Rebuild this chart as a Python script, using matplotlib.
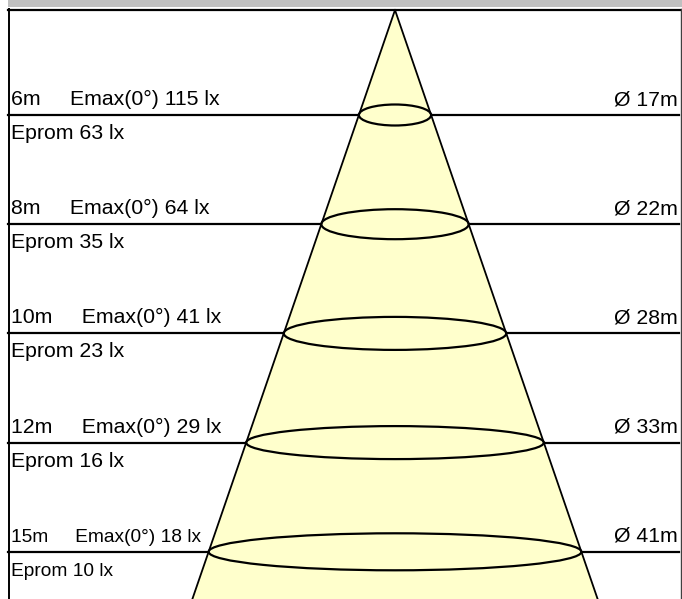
import matplotlib
matplotlib.use("Agg")
import matplotlib.pyplot as plt
from matplotlib.patches import Ellipse, Polygon, Rectangle

# valores do diagrama de cone de luz
heights = [6, 8, 10, 12, 15]          # m
emax = [115, 64, 41, 29, 18]          # lx
eprom = [63, 35, 23, 16, 10]          # lx
diameters = [17, 22, 28, 33, 41]      # m

# layout (em pixels da figura)
W, H = 682, 599
apex_x, apex_y = 395, 10
slope = 0.344                         # meia-largura do cone por pixel vertical
first_row, row_step = 115, 109.2
ell_heights = [21, 30, 33, 33, 37]
fill = '#ffffcc'
font = 'Liberation Sans'

fig = plt.figure(figsize=(W / 100, H / 100), dpi=100)
ax = fig.add_axes([0, 0, 1, 1])
ax.set_xlim(0, W)
ax.set_ylim(H, 0)
ax.axis('off')

# faixa cinza no topo e moldura
ax.add_patch(Rectangle((8, 0), W - 8, 7, color='#c0c0c0', lw=0, zorder=1))
ax.plot([8, W], [9.5, 9.5], color='black', lw=1.6, zorder=6)
ax.plot([8.5, 8.5], [9, H], color='black', lw=1.4, zorder=6)
ax.plot([680.5, 680.5], [9, H], color='#404040', lw=1.0, zorder=6)

rows = [first_row + i * row_step for i in range(len(heights))]

# linhas horizontais (ficam por baixo do cone)
for y in rows:
    ax.plot([8, 679], [y, y], color='black', lw=1.6, zorder=2)

# cone
half_bottom = slope * (H - apex_y)
cone = Polygon([(apex_x, apex_y), (apex_x - half_bottom, H), (apex_x + half_bottom, H)],
               closed=True, facecolor=fill, edgecolor='none', zorder=3)
ax.add_patch(cone)
ax.plot([apex_x, apex_x - half_bottom], [apex_y, H], color='black', lw=1.3, zorder=4)
ax.plot([apex_x, apex_x + half_bottom], [apex_y, H], color='black', lw=1.3, zorder=4)

for i, y in enumerate(rows):
    w = 2 * slope * (y - apex_y)
    ax.add_patch(Ellipse((apex_x, y), w, ell_heights[i], facecolor='none',
                         edgecolor='black', lw=1.6, zorder=5))

    fs = 15.3 if i < len(rows) - 1 else 13.8
    ax.text(11, y - 10, f"{heights[i]}m     Emax(0°) {emax[i]} lx", fontsize=fs,
            family=font, va='baseline', ha='left', zorder=7)
    ax.text(11, y + 24, f"Eprom {eprom[i]} lx", fontsize=fs,
            family=font, va='baseline', ha='left', zorder=7)
    ax.text(678, y - 10, f"Ø {diameters[i]}m", fontsize=15.3,
            family=font, va='baseline', ha='right', zorder=7)

fig.savefig('out.png', dpi=100)
